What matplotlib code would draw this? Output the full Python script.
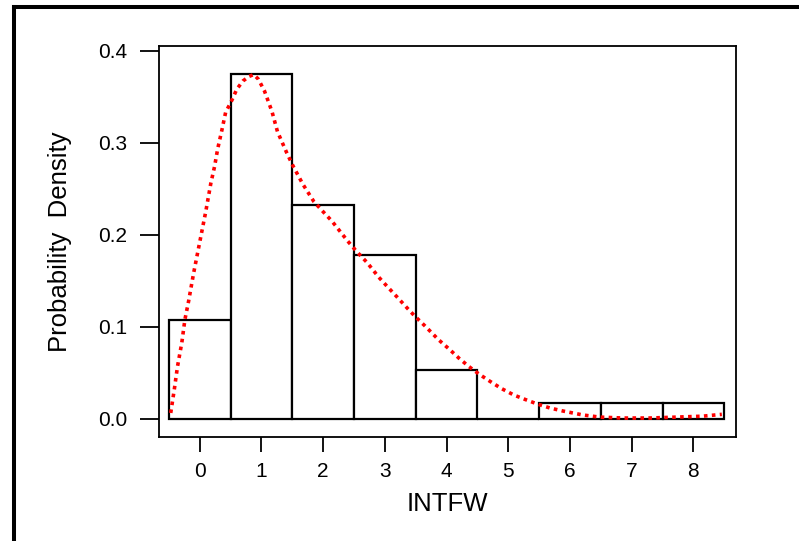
import numpy as np
import matplotlib.pyplot as plt
from matplotlib.lines import Line2D

plt.rcParams['font.family'] = ['Liberation Sans', 'DejaVu Sans']

# histogram of INTFW (56 obs, unit bins centred on integers)
bin_centers = [0, 1, 2, 3, 4, 5, 6, 7, 8]
counts = [6, 21, 13, 10, 3, 0, 1, 1, 1]
density = [c / sum(counts) for c in counts]

# red dotted density curve
curve_x = [-0.47, -0.41, -0.36, -0.29, -0.24, -0.18, -0.1, 0.0, 0.1, 0.18, 0.24, 0.29,
           0.36, 0.42, 0.52, 0.60, 0.70, 0.80, 0.875, 0.95, 1.05, 1.17, 1.26, 1.41,
           1.51, 1.67, 1.85, 2.0, 2.14, 2.27, 2.40, 2.54, 2.71, 2.90, 3.05, 3.19,
           3.34, 3.48, 3.65, 3.87, 4.04, 4.20, 4.36, 4.52, 4.70, 4.89, 5.09, 5.28,
           5.48, 5.67, 5.88, 6.21, 6.48, 6.86, 7.29, 7.73, 8.15, 8.46]
curve_y = [0.0065, 0.033, 0.057, 0.083, 0.108, 0.128, 0.158, 0.192, 0.226, 0.256, 0.274, 0.293,
           0.314, 0.333, 0.346, 0.358, 0.367, 0.372, 0.374, 0.369, 0.356, 0.334, 0.312, 0.289,
           0.275, 0.255, 0.236, 0.225, 0.215, 0.204, 0.193, 0.182, 0.170, 0.154, 0.143, 0.133,
           0.122, 0.112, 0.101, 0.086, 0.076, 0.066, 0.057, 0.049, 0.041, 0.033, 0.026, 0.021,
           0.016, 0.012, 0.0087, 0.0043, 0.002, 0.001, 0.001, 0.002, 0.003, 0.005]

yticks = [0.0, 0.1, 0.2, 0.3, 0.4]
ytick_labels = ['0.0', '0.1', '0.2', '0.3', '0.4']

fig = plt.figure(figsize=(7.99, 5.41), dpi=100)
ax = fig.add_axes([159 / 799, 1 - 437 / 541, 577 / 799, 391 / 541])

ax.bar(bin_centers, density, width=1.0, facecolor='white', edgecolor='black',
       linewidth=1.6)
ax.plot(curve_x, curve_y, color='red', linewidth=2.6, linestyle=(0, (1, 1.2)),
        dash_capstyle='butt')

ax.set_xlim(-0.66, 8.69)
ax.set_ylim(-0.0196, 0.405)
ax.set_xticks(bin_centers)
ax.set_yticks(yticks)
ax.set_yticklabels(ytick_labels)
ax.tick_params(axis='x', direction='out', length=11, width=1.3, pad=7, labelsize=15)
ax.tick_params(axis='y', direction='out', length=13.7, width=1.3, pad=9, labelsize=15)
for s in ax.spines.values():
    s.set_linewidth(1.3)

ax.set_xlabel('INTFW', fontsize=18.5, labelpad=8)
ax.set_ylabel('Probability  Density', fontsize=18.5, labelpad=19)

# outer frame (only left and top edges fall inside the image)
fx = 14.5 / 799
fy = 1 - 7 / 541
fig.add_artist(Line2D([fx, fx], [0, fy], transform=fig.transFigure, color='black',
                      linewidth=2.9, solid_capstyle='projecting'))
fig.add_artist(Line2D([fx, 1], [fy, fy], transform=fig.transFigure, color='black',
                      linewidth=2.9, solid_capstyle='projecting'))

fig.savefig('out.png', dpi=100)
